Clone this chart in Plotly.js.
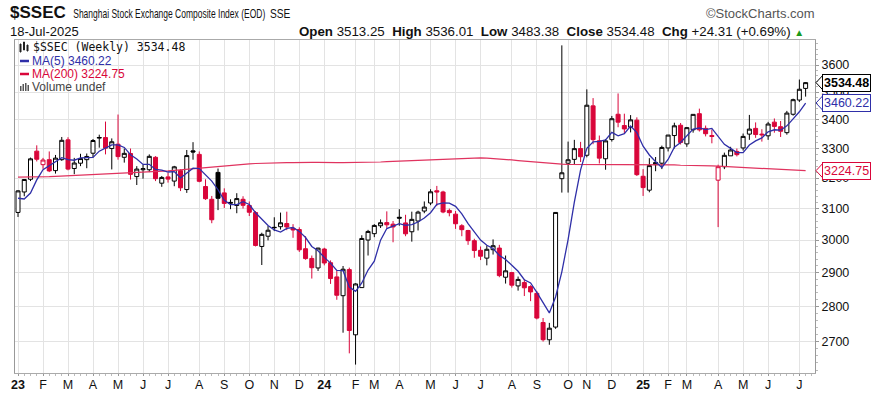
<!DOCTYPE html>
<html><head><meta charset="utf-8">
<script src="https://cdn.plot.ly/plotly-3.0.1.min.js"></script>
<style>html,body{margin:0;padding:0;background:#fff}#chart{width:875px;height:396px}</style>
</head><body><div id="chart"></div>
<script>
// Weekly bars (week starting Monday)
const weeks = [
"2023-01-02","2023-01-09","2023-01-16","2023-01-30","2023-02-06","2023-02-13","2023-02-20","2023-02-27","2023-03-06","2023-03-13",
"2023-03-20","2023-03-27","2023-04-03","2023-04-10","2023-04-17","2023-04-24","2023-05-08","2023-05-15","2023-05-22","2023-05-29",
"2023-06-05","2023-06-12","2023-06-19","2023-06-26","2023-07-03","2023-07-10","2023-07-17","2023-07-24","2023-07-31","2023-08-07",
"2023-08-14","2023-08-21","2023-08-28","2023-09-04","2023-09-11","2023-09-18","2023-09-25","2023-10-09","2023-10-16","2023-10-23",
"2023-10-30","2023-11-06","2023-11-13","2023-11-20","2023-11-27","2023-12-04","2023-12-11","2023-12-18","2023-12-25",
"2024-01-01","2024-01-08","2024-01-15","2024-01-22","2024-01-29","2024-02-05","2024-02-19","2024-02-26","2024-03-04","2024-03-11",
"2024-03-18","2024-03-25","2024-04-01","2024-04-08","2024-04-15","2024-04-22","2024-04-29","2024-05-06","2024-05-13","2024-05-20",
"2024-05-27","2024-06-03","2024-06-10","2024-06-17","2024-06-24","2024-07-01","2024-07-08","2024-07-15","2024-07-22","2024-07-29",
"2024-08-05","2024-08-12","2024-08-19","2024-08-26","2024-09-02","2024-09-09","2024-09-16","2024-09-23","2024-09-30","2024-10-14",
"2024-10-21","2024-10-28","2024-11-04","2024-11-11","2024-11-18","2024-11-25","2024-12-02","2024-12-09","2024-12-16","2024-12-23",
"2024-12-30","2025-01-06","2025-01-13","2025-01-20","2025-01-27","2025-02-10","2025-02-17","2025-02-24","2025-03-03","2025-03-10",
"2025-03-17","2025-03-24","2025-03-31","2025-04-07","2025-04-14","2025-04-21","2025-04-28","2025-05-05","2025-05-12","2025-05-19",
"2025-05-26","2025-06-02","2025-06-09","2025-06-16","2025-06-23","2025-06-30","2025-07-07","2025-07-14"];

const opens = [
3087.5,3154,3196,3291,3245,3262,3225,3262,3330,3232,
3250,3262,3284,3336,3338,3300,3315,3270,3283,3205,
3228,3228,3270,3183,3204,3190,3225,3162,3292,3280,
3172,3130,3219,3151,3120,3110,3130,3110,3087,2980,
3012,3040,3042,3052,3037,3033,2973,2943,2914,
2972,2930,2887,2831,2909,2718,2855,3000,3020,3045,
3055,3050,3072,3054,3026,3060,3092,3118,3158,3154,
3094,3082,3045,3030,2998,2968,2944,2970,2975,2886,
2900,2860,2870,2858,2838,2753,2704,2740,3198,3250,
3263,3300,3277,3450,3327,3265,3331,3420,3380,3374,
3399,3206,3160,3245,3250,3302,3345,3381,3316,3365,
3422,3370,3345,3193,3238,3275,3290,3302,3350,3370,
3350,3344,3392,3376,3355,3420,3471,3513.25];

const highs = [
3160,3196,3269,3311,3268,3290,3278,3340,3339,3268,
3282,3283,3333,3348,3394,3335,3419,3300,3300,3240,
3245,3280,3274,3207,3218,3241,3230,3295,3322,3290,
3196,3141,3232,3166,3130,3150,3140,3123,3092,3023,
3044,3072,3087,3090,3050,3040,3012,2952,2976,
2976,2937,2905,2920,2915,2868,3015,3032,3050,3065,
3091,3060,3098,3080,3090,3093,3123,3163,3174,3158,
3100,3092,3050,3032,3004,2980,2983,3002,2985,2952,
2902,2888,2880,2862,2845,2766,2752,3088,3674.4,3324,
3330,3323,3509.8,3478,3345,3333,3414,3494.9,3422,3417,
3409,3230,3267,3271,3310,3346,3390,3389,3375,3420,
3440,3380,3366,3245,3286,3306,3300,3352,3417.6,3391,
3367,3393,3405,3396,3432,3476,3546,3536.01];

const lows = [
3073,3140,3190,3256,3231,3220,3215,3258,3226,3213,
3240,3233,3270,3303,3280,3229,3262,3252,3195,3177,
3198,3220,3190,3171,3185,3173,3157,3151,3262,3186,
3128,3053,3095,3102,3098,3085,3100,3076,2980,2923,
2999,3028,3033,3031,3007,2963,2939,2882,2905,
2922,2866,2819,2724,2666,2635,2855,2952,3009,3038,
3038,2993,3045,3012,2995,3030,3085,3111,3108,3085,
3075,3035,3012,2985,2945,2938,2922,2955,2886,2867,
2855,2846,2830,2815,2762,2699,2690,2735,3152,3152,
3246,3254,3270,3315,3249,3228,3324,3374,3353,3356,
3207,3141,3153,3223,3230,3290,3300,3314,3306,3355,
3359,3342,3318,3040.7,3230,3275,3273,3293,3330,3337,
3324,3330,3355,3340,3348,3415,3464,3483.38];

const closes = [
3157.6,3195.3,3264.8,3263.4,3260.7,3224.0,3267.2,3328.4,3230.1,3250.6,
3265.7,3272.9,3327.7,3338.2,3301.3,3323.3,3272.4,3283.5,3212.5,3230.1,
3231.4,3273.3,3197.9,3202.1,3196.6,3237.7,3167.8,3275.9,3288.1,3189.3,
3132.0,3064.1,3133.3,3116.7,3117.7,3132.4,3110.5,3088.1,2983.1,3017.8,
3030.8,3039.0,3054.4,3041.0,3031.6,2969.6,2942.6,2914.8,2974.9,
2929.2,2882.0,2832.3,2910.2,2730.2,2865.9,3004.9,3027.0,3046.0,3054.6,
3048.0,3041.2,3069.3,3019.5,3065.3,3088.6,3104.8,3154.6,3154.0,3088.9,
3086.8,3051.3,3032.6,2998.1,2967.4,2949.9,2971.3,2982.3,2890.9,2905.3,
2862.2,2879.4,2854.4,2842.2,2765.8,2704.1,2736.8,3087.5,3217.7,3261.6,
3299.7,3272.0,3452.3,3330.7,3267.2,3326.5,3404.1,3391.9,3368.1,3400.1,
3211.4,3168.5,3241.8,3252.6,3303.7,3346.7,3379.1,3320.9,3372.6,3419.6,
3364.8,3351.3,3342.0,3238.2,3276.7,3295.1,3279.0,3342.0,3367.5,3348.4,
3347.5,3385.4,3377.0,3359.9,3424.2,3472.3,3510.2,3534.48];

// last four weekly closes of Dec 2022 (needed for the first MA(5) points)
const priorCloses = [3206.95,3167.86,3045.87,3089.26];

const ma200 = [
3203,3203,3204,3204,3205,3205,3206,3207,3208,3208,
3209,3210,3211,3212,3213,3213,3214,3215,3216,3218,
3219,3220,3221,3222,3224,3226,3228,3230,3232,3234,
3236,3238,3240,3242,3244,3246,3247,3248,3249,3250,
3250,3251,3251,3252,3252,3253,3253,3253,3253,
3252,3252,3252,3252,3252,3252,3253,3253,3254,3254,
3255,3256,3257,3258,3259,3260,3261,3262,3263,3264,
3265,3266,3267,3267,3268,3268,3267,3266,3265,3263,
3261,3259,3257,3255,3253,3251,3250,3248,3247,3246,
3246,3246,3246,3245,3245,3245,3245,3245,3245,3245,
3245,3245,3245,3244,3244,3244,3244,3243,3243,3242,
3242,3242,3241,3240,3239,3238,3237,3236,3235,3233,
3231,3230,3229,3228,3227,3226,3225,3224.75];

const yTicks = [2700,2800,2900,3000,3100,3200,3300,3400,3500,3600];
const monthLetters = ["J","F","M","A","M","J","J","A","S","O","N","D"];

const RED = "#d9063a", BLACK = "#000000", BLUE = "#2f2fa8", MARED = "#e0335f";
const FONT = "Liberation Sans, Arial, sans-serif";
const MONO = "DejaVu Sans Mono, Liberation Mono, monospace";

const n = closes.length;
const idx = closes.map((_, i) => i);

// MA(5)
const allC = priorCloses.concat(closes);
const ma5 = closes.map((_, i) => {
  let s = 0; for (let k = 0; k < 5; k++) s += allC[i + k]; return s / 5;
});

// colour groups: black when close >= previous close, red otherwise
function group(isRed) {
  const g = {x: [], open: [], high: [], low: [], close: []};
  for (let i = 0; i < n; i++) {
    const prev = i === 0 ? priorCloses[priorCloses.length - 1] : closes[i - 1];
    const red = closes[i] < prev;
    if (red === isRed) {
      g.x.push(i); g.open.push(opens[i]); g.high.push(highs[i]); g.low.push(lows[i]); g.close.push(closes[i]);
    }
  }
  return g;
}
function candle(g, c) {
  return Object.assign({type: "candlestick", whiskerwidth: 0, hoverinfo: "skip", showlegend: false,
    increasing: {line: {color: c, width: 1}, fillcolor: "#ffffff"},
    decreasing: {line: {color: c, width: 1}, fillcolor: c}}, g);
}

// month ticks
const tickvals = [], ticktext = [];
for (let i = 0; i < n; i++) {
  const m = +weeks[i].slice(5, 7), y = weeks[i].slice(2, 4);
  const pm = i === 0 ? -1 : +weeks[i - 1].slice(5, 7);
  if (m !== pm) {
    tickvals.push(i);
    ticktext.push(m === 1 ? "<b>" + y + "</b>" : monthLetters[m - 1]);
  }
}

const yLo = Math.log10(2612), yHi = Math.log10(3695);
const L = 15, T = 40, W = 800, H = 333;
const PX = px => (px - L) / W;
const PY = py => (T + H - py) / H;
const PYV = v => (Math.log10(v) - yLo) / (yHi - yLo);

const ann = [];
function txt(px, py, text, o) {
  ann.push(Object.assign({xref: "paper", yref: "paper", x: PX(px), y: PY(py), text: text,
    showarrow: false, xanchor: "left", yanchor: "middle",
    font: {family: FONT, size: 13, color: "#111"}}, o || {}));
}
// header
txt(8, 13, "<b>$SSEC</b>", {font: {family: FONT, size: 17, color: "#111"}});
txt(71, 14, "Shanghai Stock Exchange Composite Index (EOD)", {font: {family: FONT, size: 12.5, color: "#111"}});
txt(268, 14, "SSE", {font: {family: FONT, size: 12, color: "#111"}});
txt(817, 14, "©StockCharts.com", {xanchor: "right", font: {family: FONT, size: 13, color: "#555"}});
txt(8, 31, "18-Jul-2025", {font: {family: FONT, size: 13, color: "#111"}});
txt(806, 31, "<b>Open</b> 3513.25  <b>High</b> 3536.01  <b>Low</b> 3483.38  <b>Close</b> 3534.48  <b>Chg</b> +24.31 (+0.69%) <span style='color:#1a9a1a;font-size:10px'>▲</span>",
  {xanchor: "right", font: {family: FONT, size: 13.3, color: "#111"}});
// legend inside plot
txt(31, 47, "$SSEC (Weekly) 3534.48", {font: {family: MONO, size: 11.5, color: "#111"}});
txt(30, 61, "MA(5) 3460.22", {font: {family: FONT, size: 12, color: BLUE}});
txt(30, 74, "MA(200) 3224.75", {font: {family: FONT, size: 12, color: RED}});
txt(30, 87, "Volume undef", {font: {family: FONT, size: 12, color: "#444"}});

const shapes = [];
// legend icons
shapes.push({type: "line", xref: "paper", yref: "paper", x0: PX(20), x1: PX(29), y0: PY(61), y1: PY(61), line: {color: BLUE, width: 2.5}});
shapes.push({type: "line", xref: "paper", yref: "paper", x0: PX(20), x1: PX(29), y0: PY(74), y1: PY(74), line: {color: RED, width: 2.5}});
[[20,21,44,52],[23.5,24.5,42,50],[27,28,45,51]].forEach(r => shapes.push({type: "rect", xref: "paper", yref: "paper",
  x0: PX(r[0]), x1: PX(r[1]), y0: PY(r[3]), y1: PY(r[2]), line: {width: 1, color: "#222"}, fillcolor: "#222"}));
[[20,21.5,86,91],[22.5,24,84,91],[25,26.5,83,91],[27.5,29,85,91]].forEach(r => shapes.push({type: "rect", xref: "paper", yref: "paper",
  x0: PX(r[0]), x1: PX(r[1]), y0: PY(r[3]), y1: PY(r[2]), line: {width: 0}, fillcolor: "#555"}));

// right-side value tags
function tag(v, text, col, bold) {
  const yp = PYV(v);
  ann.push({xref: "paper", yref: "paper", x: PX(822), y: yp, text: bold ? "<b>" + text + "</b>" : text,
    showarrow: false, xanchor: "left", yanchor: "middle", bgcolor: "#ffffff", bordercolor: col, borderwidth: 1, borderpad: 1,
    font: {family: FONT, size: 12.5, color: bold ? "#000" : col}});
  const dy = 7.5 / H;
  shapes.push({type: "path", xref: "paper", yref: "paper",
    path: "M " + PX(823) + "," + (yp + dy) + " L " + PX(816) + "," + yp + " L " + PX(823) + "," + (yp - dy),
    line: {color: col, width: 1}, fillcolor: "rgba(0,0,0,0)"});
}
tag(3534.48, "3534.48", "#000", true);
tag(ma5[n - 1], ma5[n - 1].toFixed(2), BLUE, false);
tag(ma200[n - 1], ma200[n - 1].toFixed(2), RED, false);

const data = [
  candle(group(false), BLACK),
  candle(group(true), RED),
  {type: "scatter", mode: "lines", x: idx, y: ma200, line: {color: MARED, width: 1.2}, hoverinfo: "skip", showlegend: false},
  {type: "scatter", mode: "lines", x: idx, y: ma5, line: {color: BLUE, width: 1.3}, hoverinfo: "skip", showlegend: false}
];

const layout = {
  width: 875, height: 396,
  margin: {l: L, r: 875 - L - W, t: T, b: 396 - T - H, pad: 0},
  paper_bgcolor: "#ffffff", plot_bgcolor: "#ffffff",
  showlegend: false, boxgap: 0.2, boxgroupgap: 0.2,
  xaxis: {type: "linear", range: [-0.48, 127.5], rangeslider: {visible: false},
    tickvals: tickvals, ticktext: ticktext, ticks: "outside", ticklen: 2, tickcolor: "#999",
    ticklabelstandoff: -2,
    showgrid: true, gridcolor: "#e3e3e3", gridwidth: 1, zeroline: false,
    showline: true, linecolor: "#aaa", mirror: true,
    tickfont: {family: FONT, size: 12.5, color: "#111"},
    minor: {dtick: 1, ticks: "outside", ticklen: 2, tickcolor: "#bbb", showgrid: false}},
  yaxis: {type: "log", side: "right", range: [yLo, yHi],
    tickvals: yTicks, ticktext: yTicks.map(String), ticks: "outside", ticklen: 3, tickcolor: "#999",
    showgrid: true, gridcolor: "#e3e3e3", zeroline: false,
    showline: true, linecolor: "#999", mirror: true,
    tickfont: {family: FONT, size: 12.5, color: "#111"},
    minor: {tickvals: Array.from({length: 55}, (_, k) => 2620 + 20 * k), ticks: "outside", ticklen: 2, tickcolor: "#bbb", showgrid: false}},
  annotations: ann, shapes: shapes
};

// narrow (condensed) rendering of the index name, as in the original header
function squeeze(el, f) {
  el.style.transformBox = "fill-box";
  el.style.transformOrigin = "0% 50%";
  el.style.transform = "scaleX(" + f + ")";
}
Plotly.newPlot("chart", data, layout, {staticPlot: true, displayModeBar: false}).then(gd => {
  gd.querySelectorAll("text.annotation-text").forEach(t => {
    const s = t.textContent;
    if (s.indexOf("Shanghai") === 0) squeeze(t, 0.68);
    else if (s === "SSE") squeeze(t, 0.85);
  });
});
</script></body></html>
